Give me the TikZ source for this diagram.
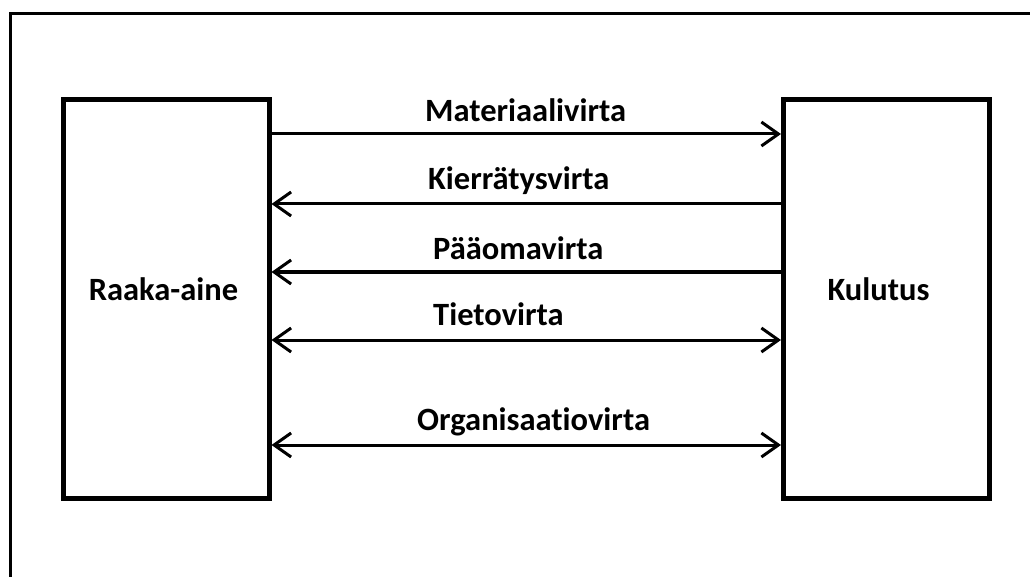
\documentclass[tikz,border=0pt]{standalone}
\usepackage{fontspec}
\setmainfont{Carlito}[Ligatures=NoCommon]
\usetikzlibrary{arrows.meta}
\begin{document}
\begin{tikzpicture}[x=1pt,y=-1pt,
  box/.style={draw, line width=5pt, minimum width=206pt, minimum height=398pt, inner sep=0pt},
  txt/.style={font=\fontsize{32.5}{36}\selectfont\bfseries, inner sep=0pt},
  lbl/.style={txt, anchor=base west},
  flow/.style={line width=3pt},
  tip/.tip={Straight Barb[length=17pt,width=24pt]}]
\useasboundingbox (0,0) rectangle (1030,577);
\begin{scope}
\clip (0,0) rectangle (1030,577);
\draw[line width=3pt] (1100,13.5) -- (10.5,13.5) -- (10.5,700);
\end{scope}
\node[box] (raaka) at (166,299) {};
\node[box] (kulutus) at (886.5,299) {};
\node[txt, anchor=base] (traaka) at (163.5,300) {Raaka-aine};
\node[txt, anchor=base] (tkulutus) at (878.5,300) {Kulutus};
% flows
\draw[flow, -tip] (raaka.east |- 0,134) -- (kulutus.west |- 0,134);
\node[lbl] (l1) at (425,122) {Materiaalivirta};
\draw[flow, tip-] (raaka.east |- 0,204) -- (kulutus.west |- 0,204);
\node[lbl] (l2) at (428,190) {Kierrätysvirta};
\draw[flow, tip-] (raaka.east |- 0,272) -- (kulutus.west |- 0,272);
\node[lbl] (l3) at (433,260) {Pääomavirta};
\draw[flow, tip-tip] (raaka.east |- 0,340) -- (kulutus.west |- 0,340);
\node[lbl] (l4) at (433,325) {Tietovirta};
\draw[flow, tip-tip] (raaka.east |- 0,445) -- (kulutus.west |- 0,445);
\node[lbl] (l5) at (417,430) {Organisaatiovirta};
\end{tikzpicture}
\end{document}
